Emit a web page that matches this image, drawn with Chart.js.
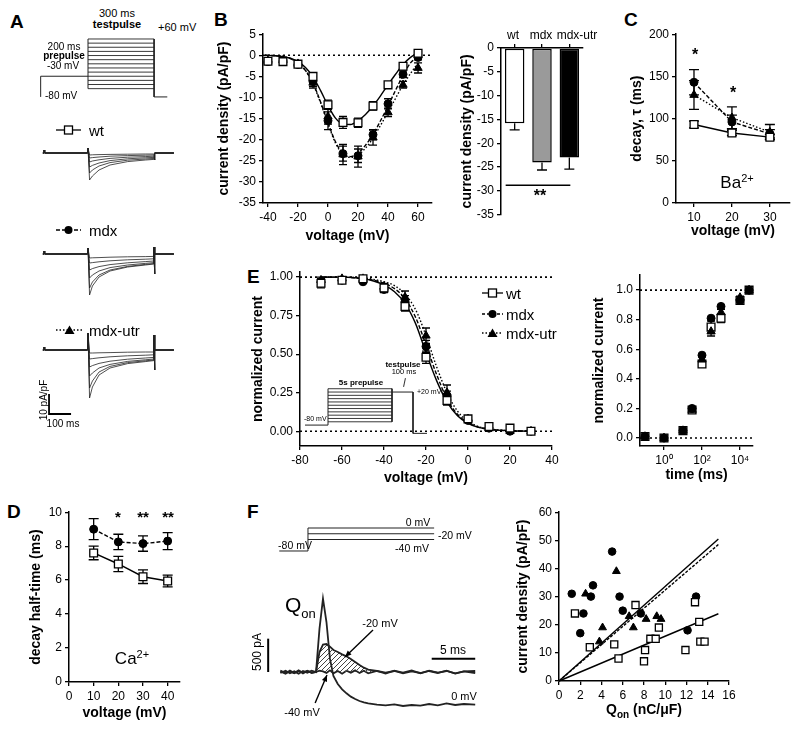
<!DOCTYPE html>
<html lang="en">
<head>
<meta charset="UTF-8" />
<title>Ca channel currents wt / mdx / mdx-utr</title>
<script src="https://cdn.jsdelivr.net/npm/chart.js"></script>
<style>
  body { margin: 0; background: #fff; }
  #fig { position: relative; width: 800px; height: 731px; overflow: hidden;
         font-family: "Liberation Sans", Arial, Helvetica, sans-serif; color: #000; }
  #fig canvas { position: absolute; }
  #fig svg { position: absolute; overflow: visible; }
  .c { position: absolute; white-space: nowrap; line-height: 1; color: #000; transform: translate(-50%, -50%); }
  .l { position: absolute; white-space: nowrap; line-height: 1; color: #000; transform: translate(0, -50%); }
  .r90 { transform: translate(-50%, -50%) rotate(-90deg); }
  .let { position: absolute; font-weight: bold; font-size: 19px; line-height: 1; }
  .b { font-weight: bold; }
</style>
</head>
<body>
<div id="fig">
  <!-- panel letters -->
  <div class="let" style="left:10px;top:12px">A</div>
  <div class="let" style="left:214px;top:10px">B</div>
  <div class="let" style="left:624px;top:10px">C</div>
  <div class="let" style="left:7px;top:502px">D</div>
  <div class="let" style="left:247px;top:267px">E</div>
  <div class="let" style="left:247px;top:502px">F</div>

  <!-- A -->
  <canvas id="protoA"></canvas>
  <canvas id="trWt"></canvas>
  <canvas id="trMdx"></canvas>
  <canvas id="trUtr"></canvas>
  <div class="c" style="left:117px;top:13px;font-size:11px">300 ms</div>
  <div class="c b" style="left:117px;top:24px;font-size:11px">testpulse</div>
  <div class="l" style="left:158px;top:27px;font-size:11px">+60 mV</div>
  <div class="c" style="left:64px;top:47px;font-size:10px">200 ms</div>
  <div class="c b" style="left:64px;top:56px;font-size:10px">prepulse</div>
  <div class="c" style="left:63px;top:66px;font-size:10px">-30 mV</div>
  <div class="l" style="left:45px;top:96px;font-size:10px">-80 mV</div>

  <svg style="left:56px;top:124px" width="26" height="12">
    <line x1="0" y1="6" x2="25" y2="6" stroke="#000" stroke-width="1.3"/>
    <rect x="8.5" y="2" width="8" height="8" fill="#fff" stroke="#000" stroke-width="1.3"/>
  </svg>
  <div class="l" style="left:89px;top:130px;font-size:15px">wt</div>
  <svg style="left:56px;top:224px" width="26" height="12">
    <line x1="0" y1="6" x2="25" y2="6" stroke="#000" stroke-width="1.3" stroke-dasharray="4 2"/>
    <circle cx="12.5" cy="6" r="4" fill="#000"/>
  </svg>
  <div class="l" style="left:89px;top:230px;font-size:15px">mdx</div>
  <svg style="left:56px;top:324px" width="28" height="12">
    <line x1="0" y1="6" x2="27" y2="6" stroke="#000" stroke-width="1.3" stroke-dasharray="1.5 2"/>
    <polygon points="13.5,1.5 18.5,10 8.5,10" fill="#000"/>
  </svg>
  <div class="l" style="left:89px;top:330px;font-size:15px">mdx-utr</div>
  <div class="c r90" style="left:44px;top:400px;font-size:10px">10 pA/pF</div>
  <div class="c" style="left:63px;top:424px;font-size:10px">100 ms</div>

  <!-- B -->
  <canvas id="ivChart"></canvas>
  <canvas id="barChart"></canvas>
  <div class="c" style="left:513px;top:35px;font-size:12px">wt</div>
  <div class="c" style="left:541px;top:35px;font-size:12px">mdx</div>
  <div class="c" style="left:577px;top:35px;font-size:12px">mdx-utr</div>
  <div class="c b" style="left:540px;top:196px;font-size:16px">**</div>

  <!-- C -->
  <canvas id="decChart"></canvas>
  <div class="c b" style="left:695px;top:55px;font-size:16px">*</div>
  <div class="c b" style="left:733px;top:93px;font-size:16px">*</div>
  <div class="c" style="left:737px;top:182px;font-size:17px">Ba<sup style="font-size:11px">2+</sup></div>

  <!-- D -->
  <canvas id="htChart"></canvas>
  <div class="c b" style="left:118px;top:516px;font-size:15px">*</div>
  <div class="c b" style="left:143px;top:516px;font-size:15px">**</div>
  <div class="c b" style="left:168px;top:516px;font-size:15px">**</div>
  <div class="c" style="left:132px;top:658px;font-size:17px">Ca<sup style="font-size:11px">2+</sup></div>

  <!-- E -->
  <canvas id="inactChart"></canvas>
  <canvas id="insetE"></canvas>
  <canvas id="recChart"></canvas>
  <div class="c b" style="left:361px;top:383px;font-size:8px">5s prepulse</div>
  <div class="c b" style="left:403px;top:365px;font-size:8px">testpulse</div>
  <div class="c" style="left:404px;top:372px;font-size:7.5px">100 ms</div>
  <div style="position:absolute;left:404px;top:378px;width:1px;height:9px;background:#333;transform:rotate(12deg)"></div>
  <div class="l" style="left:417px;top:391px;font-size:7px">+20 mV</div>
  <div class="l" style="left:304px;top:418px;font-size:7px">-80 mV</div>
  <svg style="left:482px;top:287px" width="22" height="12">
    <line x1="0" y1="6" x2="21" y2="6" stroke="#000" stroke-width="1.3"/>
    <rect x="6.5" y="2" width="8" height="8" fill="#fff" stroke="#000" stroke-width="1.3"/>
  </svg>
  <div class="l" style="left:506px;top:293px;font-size:15px">wt</div>
  <svg style="left:482px;top:308px" width="22" height="12">
    <line x1="0" y1="6" x2="21" y2="6" stroke="#000" stroke-width="1.3" stroke-dasharray="3 2"/>
    <circle cx="10.5" cy="6" r="4" fill="#000"/>
  </svg>
  <div class="l" style="left:506px;top:314px;font-size:15px">mdx</div>
  <svg style="left:482px;top:327px" width="22" height="12">
    <line x1="0" y1="6" x2="21" y2="6" stroke="#000" stroke-width="1.3" stroke-dasharray="1.5 2"/>
    <polygon points="10.5,1.5 15.5,10 5.5,10" fill="#000"/>
  </svg>
  <div class="l" style="left:506px;top:333px;font-size:15px">mdx-utr</div>

  <!-- F -->
  <canvas id="protoF"></canvas>
  <canvas id="trF"></canvas>
  <canvas id="qChart"></canvas>
  <div class="c" style="left:418px;top:522px;font-size:10.5px">0 mV</div>
  <div class="l" style="left:438px;top:535px;font-size:10.5px">-20 mV</div>
  <div class="c" style="left:412px;top:548px;font-size:10.5px">-40 mV</div>
  <div class="c" style="left:295px;top:545px;font-size:10.5px">-80 mV</div>
  <div class="l" style="left:285px;top:607px;font-size:21px">Q<sub style="font-size:13px">on</sub></div>
  <div class="c" style="left:380px;top:623px;font-size:11px">-20 mV</div>
  <div class="c" style="left:453px;top:650px;font-size:12px">5 ms</div>
  <div class="c r90" style="left:257px;top:652px;font-size:12px">500 pA</div>
  <div class="c" style="left:302px;top:712px;font-size:11px">-40 mV</div>
  <div class="c" style="left:464px;top:696px;font-size:11px">0 mV</div>
  <div class="c b" style="left:644px;top:711px;font-size:14px">Q<sub style="font-size:10px">on</sub> (nC/&mu;F)</div>
</div>

<script>
// ---------------- data ----------------
// A: voltage protocol (ms, mV)
const protoATimes = [-15, 200, 500, 560];
const protoAHold = -80;
const protoAPre = -30;
const testLevels = [-60, -50, -40, -30, -20, -10, 0, 10, 20, 30, 40, 50, 60];

// A: current traces (pA/pF) sampled at these times (ms)
const trT = [-5, 0, 1, 3, 198, 200, 207, 220, 250, 300, 380, 460, 499, 500, 501, 504, 590];
// values at 207..499 ms for each test pulse
const trWt = [
  [-13.5, -11.5, -8.5, -6.0, -4.3, -3.5, -3.2],
  [-10, -8.5, -6.5, -4.8, -3.6, -3.0, -2.7],
  [-7, -6.2, -5.0, -3.8, -2.9, -2.4, -2.2],
  [-4.5, -4.0, -3.4, -2.7, -2.1, -1.8, -1.6],
  [-2.5, -2.3, -2.0, -1.6, -1.3, -1.1, -1.0],
  [-1.0, -0.9, -0.8, -0.7, -0.6, -0.5, -0.5]
];
const trMdx = [
  [-20.5, -16, -11.5, -8.5, -6.5, -5.5, -5.0],
  [-17, -14, -10.5, -8.0, -6.2, -5.2, -4.8],
  [-12, -10.5, -8.5, -6.8, -5.5, -4.7, -4.3],
  [-8, -7.3, -6.3, -5.3, -4.4, -3.8, -3.5],
  [-4.5, -4.3, -3.9, -3.4, -2.9, -2.6, -2.4],
  [-2.0, -1.9, -1.8, -1.6, -1.4, -1.3, -1.2]
];
const trUtr = [
  [-24, -18.5, -12.5, -9.0, -6.8, -5.8, -5.3],
  [-19, -15.5, -11, -8.2, -6.3, -5.4, -5.0],
  [-13, -11.5, -9.0, -7.2, -5.7, -4.9, -4.5],
  [-8.5, -7.8, -6.7, -5.6, -4.6, -4.0, -3.7],
  [-4.5, -4.3, -3.9, -3.4, -2.9, -2.6, -2.4],
  [-1.5, -1.5, -1.4, -1.3, -1.1, -1.0, -1.0]
];

// B: I-V relation
const ivV = [-40, -30, -20, -10, 0, 10, 20, 30, 40, 50, 60];
const ivWt = [-1.4, -1.5, -2.1, -5.0, -11.7, -15.9, -16.0, -12.0, -7.0, -2.6, 0.5];
const ivWtErr = [0.5, 0.5, 0.5, 0.9, 1.1, 1.4, 1.1, 1.0, 0.6, 0.5, 0.5];
const ivMdx = [-1.5, -1.4, -2.2, -6.2, -15.5, -23.3, -23.8, -18.8, -11.5, -4.5, -0.5];
const ivMdxErr = [0.5, 0.7, 0.6, 1.2, 2.1, 1.8, 1.6, 1.2, 1.2, 0.8, 0.6];
const ivUtr = [-1.3, -1.2, -2.0, -6.5, -14.5, -23.5, -24.0, -19.5, -13.5, -7.0, -3.0];
const ivUtrErr = [0.5, 0.6, 0.6, 1.3, 1.8, 2.4, 2.5, 1.8, 1.0, 0.8, 1.2];
const fitV = [-42, -35, -30, -25, -20, -15, -10, -5, 0, 5, 10, 15, 20, 25, 30, 35, 40, 45, 50, 55, 60];
const fitWt = [0, -0.1, -0.3, -0.7, -1.5, -2.9, -5.1, -8.3, -11.9, -14.9, -16.3, -16.4, -15.5, -14.0, -12.0, -9.6, -7.0, -4.5, -2.2, -0.5, 0.5];
const fitMdx = [0, -0.1, -0.3, -0.8, -1.8, -3.6, -6.6, -11.0, -16.0, -20.5, -23.3, -24.0, -23.2, -21.3, -18.8, -15.5, -12.0, -8.3, -4.8, -1.8, -0.3];
const fitUtr = [0, -0.1, -0.3, -0.8, -1.8, -3.6, -6.8, -11.2, -16.2, -20.8, -23.5, -24.2, -23.6, -22.0, -19.6, -16.6, -13.4, -10.2, -7.0, -4.3, -1.8];
const ivTicksX = [-40, -20, 0, 20, 40, 60];
const ivTicksY = [5, 0, -5, -10, -15, -20, -25, -30, -35];

// B: peak current density bars
const barLabels = ['wt', 'mdx', 'mdx-utr'];
const barVals = [-15.8, -24.0, -23.0];
const barErr = [1.4, 1.6, 2.4];
const barTicksY = [0, -5, -10, -15, -20, -25, -30, -35];
const barSig = -28.8;

// C: decay tau (Ba2+)
const decV = [10, 20, 30];
const decWt = [93, 83, 78];
const decWtErr = [4, 3, 3];
const decMdx = [143, 96, 82];
const decMdxErr = [15, 8, 5];
const decUtr = [128, 101, 84];
const decUtrErr = [17, 13, 9];
const decTicksY = [0, 50, 100, 150, 200];

// D: decay half-time (Ca2+)
const htV = [10, 20, 30, 40];
const htWt = [7.6, 6.95, 6.2, 5.95];
const htWtErr = [0.4, 0.45, 0.4, 0.35];
const htMdx = [9.0, 8.25, 8.15, 8.3];
const htMdxErr = [0.62, 0.45, 0.45, 0.5];
const htTicksX = [0, 10, 20, 30, 40];
const htTicksY = [0, 2, 4, 6, 8, 10];

// E: steady-state inactivation
const inV = [-70, -60, -50, -40, -30, -20, -10, 0, 10, 20, 30];
const inWt = [0.96, 0.98, 0.99, 0.93, 0.81, 0.48, 0.20, 0.08, 0.03, 0.02, 0.0];
const inWtErr = [0.03, 0.02, 0.01, 0.02, 0.03, 0.04, 0.03, 0.01, 0.01, 0.01, 0];
const inMdx = [0.97, 0.98, 0.97, 0.92, 0.84, 0.55, 0.23, 0.07, 0.02, 0.0, 0.0];
const inMdxErr = [0.02, 0.02, 0.01, 0.02, 0.04, 0.04, 0.03, 0.01, 0.01, 0, 0];
const inUtr = [0.98, 0.99, 0.99, 0.94, 0.87, 0.62, 0.25, 0.08, 0.02, 0.0, 0.0];
const inUtrErr = [0.02, 0.01, 0.01, 0.02, 0.04, 0.05, 0.05, 0.01, 0.01, 0, 0];
const fitInV = [-70, -60, -50, -45, -40, -35, -30, -25, -20, -15, -10, -5, 0, 5, 10, 20, 30];
const fitInWt = [1.0, 1.0, 0.99, 0.975, 0.95, 0.905, 0.83, 0.70, 0.51, 0.33, 0.19, 0.10, 0.05, 0.025, 0.012, 0.003, 0.0];
const fitInMdx = [1.0, 1.0, 0.99, 0.98, 0.96, 0.925, 0.86, 0.74, 0.56, 0.37, 0.21, 0.11, 0.055, 0.027, 0.013, 0.003, 0.0];
const fitInUtr = [1.0, 1.0, 0.995, 0.985, 0.97, 0.945, 0.89, 0.79, 0.62, 0.42, 0.25, 0.13, 0.065, 0.03, 0.015, 0.004, 0.0];
const inTicksX = [-80, -60, -40, -20, 0, 20, 40];
const inTicksY = [0, 0.25, 0.5, 0.75, 1.0];
const inTickLabelsY = ['0.00', '0.25', '0.50', '0.75', '1.00'];
// E inset protocol (schematic time units)
const insetT = [5, 28, 92, 113, 127];
const insetHold = -80, insetTest = 20, insetEnd = -105;
const preLevels = [-70, -60, -50, -40, -30, -20, -10, 0, 10, 20, 30];

// E: recovery from inactivation
const recT = [0.1, 1, 10, 30, 100, 300, 1000, 10000, 30000];
const recWt = [0.01, 0.0, 0.05, 0.19, 0.50, 0.75, 0.81, 0.93, 1.0];
const recWtErr = [0, 0, 0, 0.01, 0.02, 0.04, 0.03, 0.01, 0];
const recMdx = [0.01, 0.0, 0.05, 0.20, 0.56, 0.81, 0.89, 0.93, 1.0];
const recUtr = [0.01, 0.0, 0.05, 0.19, 0.53, 0.72, 0.85, 0.95, 1.0];
const recUtrErr = [0, 0, 0, 0.01, 0.02, 0.03, 0.02, 0.01, 0];
const recTicksX = [1, 100, 10000];
const recTickLabelsX = ['10\u2070', '10\u00b2', '10\u2074'];
const recTicksY = [0, 0.2, 0.4, 0.6, 0.8, 1.0];
const recTickLabelsY = ['0.0', '0.2', '0.4', '0.6', '0.8', '1.0'];

// F: charge movement protocol and traces
const fLevels = [0, -20, -40];
const fProtoT = [-3.3, 0, 14.5];
const fT = [-4.1, -3.5, -3, -2.5, -2, -1.5, -1, -0.5, 0, 0.4, 0.8, 1.2, 1.6, 2, 2.5, 3, 3.5, 4, 4.5, 5, 5.5, 6, 7, 8, 9, 10, 11, 12, 13, 14, 15, 16, 17, 18.3];
const fTrM40 = [10, -25, 20, -15, 25, -20, 15, -10, 0, 20, 10, -15, 25, -20, 15, -25, 20, -10, 25, -15, 20, -20, 15, -25, 20, -10, 25, -20, 15, -15, 20, -25, 10, 15];
const fTrM20 = [-15, 20, -20, 10, -25, 15, -10, 20, 0, 300, 410, 420, 380, 330, 300, 265, 235, 195, 150, 105, 65, 35, 15, -10, 15, -20, 10, -15, 20, -10, 15, -20, 10, -15];
const fTr0 = [20, -15, 10, -20, 15, -10, 20, -15, 0, 650, 1100, 750, 200, -60, -180, -260, -320, -370, -405, -435, -455, -470, -490, -500, -485, -510, -495, -505, -480, -500, -470, -495, -480, -490];

// F: current density vs Qon
const qWtX = [1.5, 2.9, 5.2, 5.6, 7.2, 8.0, 8.1, 8.6, 9.1, 9.4, 11.9, 12.8, 13.2, 13.3, 13.7];
const qWtY = [24, 12, 13, 8, 27, 7, 11, 15, 15, 19, 11, 28, 21, 14, 14];
const qMdxX = [1.2, 2.0, 2.3, 3.0, 3.2, 5.0, 5.7, 6.0, 7.7, 12.1, 12.9];
const qMdxY = [31, 17, 24, 30, 34, 46, 30, 25, 24, 18, 30];
const qUtrX = [2.5, 3.8, 4.1, 5.4, 6.6, 7.0, 8.2, 9.2, 9.6];
const qUtrY = [31, 14, 19, 39, 23, 19, 22, 23, 22];
const qFitX = [0, 15];
const qFitWt = [0, 23.9];
const qFitMdx = [0, 50.5];
const qFitUtr = [0, 48.5];
const qTicksX = [0, 2, 4, 6, 8, 10, 12, 14, 16];
const qTicksY = [0, 10, 20, 30, 40, 50, 60];

// ---------------- helpers ----------------
Chart.defaults.font.family = '"Liberation Sans", Arial, Helvetica, sans-serif';
Chart.defaults.color = '#000';
Chart.defaults.animation = false;
Chart.defaults.responsive = false;
Chart.defaults.plugins.legend.display = false;
Chart.defaults.plugins.tooltip.enabled = false;

const refLines = {
  id: 'refLines',
  beforeDatasetsDraw(chart, args, opts) {
    if (!opts || !opts.y) return;
    const ctx = chart.ctx, a = chart.chartArea, ys = chart.scales.y;
    ctx.save();
    ctx.setLineDash([2, 3]); ctx.lineWidth = 1.6; ctx.strokeStyle = '#000';
    opts.y.forEach(v => {
      const p = ys.getPixelForValue(v);
      ctx.beginPath(); ctx.moveTo(a.left, p); ctx.lineTo(a.right + (opts.extend || 0), p); ctx.stroke();
    });
    ctx.restore();
  }
};
const errorBars = {
  id: 'errorBars',
  beforeDatasetsDraw(chart) {
    const ctx = chart.ctx;
    chart.data.datasets.forEach((ds, i) => {
      if (!ds.errs) return;
      const meta = chart.getDatasetMeta(i);
      const ys = chart.scales[meta.yAxisID];
      ctx.save();
      ctx.strokeStyle = '#000'; ctx.lineWidth = 1.3; ctx.setLineDash([]);
      meta.data.forEach((el, j) => {
        const e = ds.errs[j];
        if (!e) return;
        const d = ds.data[j];
        const v = typeof d === 'object' ? d.y : d;
        const cw = ds.capW || 4;
        const yT = ys.getPixelForValue(v + (ds.errDown ? 0 : e));
        const yB = ys.getPixelForValue(v - e);
        ctx.beginPath();
        ctx.moveTo(el.x, yT); ctx.lineTo(el.x, yB);
        ctx.moveTo(el.x - cw, yB); ctx.lineTo(el.x + cw, yB);
        if (!ds.errDown) { ctx.moveTo(el.x - cw, yT); ctx.lineTo(el.x + cw, yT); }
        ctx.stroke();
      });
      ctx.restore();
    });
  }
};
Chart.register(refLines, errorBars);

function place(id, left, top, right, bottom) {
  const cv = document.getElementById(id);
  cv.style.left = left + 'px'; cv.style.top = top + 'px';
  cv.width = right - left; cv.height = bottom - top;
  return cv;
}
function axis(min, max, ticks, labels, title, more) {
  return Object.assign({
    type: 'linear', min: min, max: max,
    afterBuildTicks: s => { s.ticks = ticks.map(v => ({ value: v })); },
    ticks: { color: '#000', font: { size: 12 }, padding: 3, autoSkip: false, maxRotation: 0,
      callback: (v, i) => labels[i] },
    grid: { drawOnChartArea: false, drawTicks: true, tickLength: 4, color: '#000', lineWidth: 1.3 },
    border: { display: true, color: '#000', width: 1.5 },
    title: title ? { display: true, text: title, color: '#000', font: { size: 14, weight: 'bold' }, padding: 0 }
                 : { display: false }
  }, more || {});
}
function xy(xs, ys) { return xs.map((x, i) => ({ x: x, y: ys[i] })); }
const STY = {
  wt:  { pointStyle: 'rect', pointRadius: 5.5, pointBackgroundColor: '#fff', pointBorderColor: '#000', pointBorderWidth: 1.3, borderColor: '#000', borderWidth: 1.4, borderDash: [] },
  mdx: { pointStyle: 'circle', pointRadius: 4, pointBackgroundColor: '#000', pointBorderColor: '#000', pointBorderWidth: 1, borderColor: '#000', borderWidth: 1.4, borderDash: [4, 2] },
  utr: { pointStyle: 'triangle', pointRadius: 4.8, pointBackgroundColor: '#000', pointBorderColor: '#000', pointBorderWidth: 1, borderColor: '#000', borderWidth: 1.4, borderDash: [1.5, 2] }
};
function pts(g, xs, ys, errs, extra) {
  return Object.assign({}, STY[g], { data: xy(xs, ys), showLine: false, errs: errs, clip: false }, extra || {});
}
function curve(g, xs, ys, extra) {
  return Object.assign({}, STY[g], { data: xy(xs, ys), showLine: true, pointRadius: 0, cubicInterpolationMode: 'monotone', clip: false }, extra || {});
}
function path(points, w) {
  return { data: points, showLine: true, pointRadius: 0, borderColor: '#222', borderWidth: w || 1, clip: false };
}
function hidden(min, max) {
  return { type: 'linear', display: false, min: min, max: max };
}
function bare(id, datasets, xr, yr, plugins) {
  return new Chart(document.getElementById(id), {
    type: 'scatter',
    data: { datasets: datasets },
    options: { devicePixelRatio: 1, layout: { padding: 0 },
      scales: { x: hidden(xr[0], xr[1]), y: hidden(yr[0], yr[1]) } },
    plugins: plugins || []
  });
}

// ---------------- A ----------------
place('protoA', 40, 37, 175, 99);
(function () {
  const [t0, t1, t2, t3] = protoATimes;
  const ds = [
    path([{ x: t0, y: protoAHold }, { x: t0, y: protoAPre }, { x: t1, y: protoAPre }]),
    path([{ x: t1, y: testLevels[0] }, { x: t1, y: testLevels[testLevels.length - 1] }]),
    path([{ x: t2, y: testLevels[testLevels.length - 1] }, { x: t2, y: protoAHold }, { x: t3, y: protoAHold }])
  ];
  testLevels.forEach(L => ds.push(path([{ x: t1, y: L }, { x: t2, y: L }], 0.9)));
  bare('protoA', ds, [-18, 595], [-85, 64.8]);
})();

function traceSet(curves, art, up500, tail) {
  return curves.map(c => path(xy(trT, [0, 0, 1.5, 0, 0, art].concat(c, [up500 === null ? c[c.length - 1] : up500, tail, 0, 0])), 0.8));
}
place('trWt', 40, 145, 175, 185);
bare('trWt', traceSet(trWt, 2.5, null, -3.5), [-18, 595], [-16, 4]);
place('trMdx', 40, 246, 175, 302);
bare('trMdx', traceSet(trMdx, 3, 3.5, -10), [-18, 595], [-24, 4]);
place('trUtr', 40, 332, 175, 420);
bare('trUtr', traceSet(trUtr, 8.5, 7.5, -10), [-18, 595], [-35, 9], [{
  id: 'scaleBarA',
  afterDraw(chart) {
    const x = chart.scales.x, y = chart.scales.y, ctx = chart.ctx;
    ctx.save(); ctx.strokeStyle = '#000'; ctx.lineWidth = 1.8;
    ctx.beginPath();
    ctx.moveTo(x.getPixelForValue(23), y.getPixelForValue(-22));
    ctx.lineTo(x.getPixelForValue(23), y.getPixelForValue(-32));
    ctx.lineTo(x.getPixelForValue(123), y.getPixelForValue(-32));
    ctx.stroke(); ctx.restore();
  }
}]);

// ---------------- B ----------------
place('ivChart', 216, 24, 444, 245);
new Chart(document.getElementById('ivChart'), {
  type: 'scatter',
  data: { datasets: [
    pts('wt', ivV, ivWt, ivWtErr), pts('mdx', ivV, ivMdx, ivMdxErr), pts('utr', ivV, ivUtr, ivUtrErr),
    curve('wt', fitV, fitWt), curve('mdx', fitV, fitMdx), curve('utr', fitV, fitUtr)
  ] },
  options: {
    devicePixelRatio: 1,
    layout: { padding: { top: 10, right: 12, left: 0, bottom: 0 } },
    plugins: { refLines: { y: [0] } },
    scales: {
      x: axis(-43.3, 69.3, ivTicksX, ivTicksX.map(String), 'voltage (mV)', { afterFit: s => { s.height = 42; } }),
      y: axis(-35, 5, ivTicksY, ivTicksY.map(String), 'current density (pA/pF)', { afterFit: s => { s.width = 47; } })
    }
  }
});

// category labels of the bar chart are set as text above (they overlap at this width)
place('barChart', 459, 26, 591, 225);
new Chart(document.getElementById('barChart'), {
  type: 'bar',
  data: { labels: barLabels, datasets: [{
    data: barVals, errs: barErr, errDown: true, capW: 5,
    backgroundColor: ['#fff', '#9a9a9a', '#000'], borderColor: '#000', borderWidth: 1.5, borderSkipped: false,
    barPercentage: 0.75, categoryPercentage: 0.95
  }] },
  options: {
    devicePixelRatio: 1,
    layout: { padding: { top: 0, right: 8, left: 0, bottom: 10 } },
    scales: {
      x: { type: 'category', position: 'top', offset: true,
        ticks: { display: false },
        grid: { offset: false, drawOnChartArea: false, drawTicks: true, tickLength: 4, color: '#000', lineWidth: 1.3 },
        border: { display: true, color: '#000', width: 1.5 },
        afterFit: s => { s.height = 22; } },
      y: axis(-35, 0, barTicksY, barTicksY.map(String), 'current density (pA/pF)', { afterFit: s => { s.width = 42; } })
    }
  },
  plugins: [{
    id: 'sigLine',
    afterDraw(chart) {
      const x = chart.scales.x, y = chart.scales.y, ctx = chart.ctx;
      const p = y.getPixelForValue(barSig);
      ctx.save(); ctx.strokeStyle = '#000'; ctx.lineWidth = 1.5;
      ctx.beginPath(); ctx.moveTo(x.getPixelForValue(0) - 9, p); ctx.lineTo(x.getPixelForValue(2) + 1, p); ctx.stroke();
      ctx.restore();
    }
  }]
});

// ---------------- C ----------------
place('decChart', 629, 24, 798, 240);
new Chart(document.getElementById('decChart'), {
  type: 'scatter',
  data: { datasets: [
    pts('wt', decV, decWt, decWtErr, { showLine: true, capW: 5 }),
    pts('mdx', decV, decMdx, decMdxErr, { showLine: true, capW: 5 }),
    pts('utr', decV, decUtr, decUtrErr, { showLine: true, capW: 5 })
  ] },
  options: {
    devicePixelRatio: 1,
    layout: { padding: { top: 10, right: 8, left: 0, bottom: 0 } },
    scales: {
      x: axis(5.26, 35.3, decV, decV.map(String), 'voltage (mV)', { afterFit: s => { s.height = 37; } }),
      y: axis(0, 200, decTicksY, decTicksY.map(String), 'decay, \u03c4 (ms)', { afterFit: s => { s.width = 47; } })
    }
  }
});

// ---------------- D ----------------
place('htChart', 28, 502, 192, 722);
new Chart(document.getElementById('htChart'), {
  type: 'scatter',
  data: { datasets: [
    pts('mdx', htV, htMdx, htMdxErr, { showLine: true, capW: 5 }),
    pts('wt', htV, htWt, htWtErr, { showLine: true, capW: 5 })
  ] },
  options: {
    devicePixelRatio: 1,
    layout: { padding: { top: 10, right: 12, left: 0, bottom: 0 } },
    scales: {
      x: axis(0, 45, htTicksX, htTicksX.map(String), 'voltage (mV)', { afterFit: s => { s.height = 40; } }),
      y: axis(0, 10, htTicksY, htTicksY.map(String), 'decay half-time (ms)', { afterFit: s => { s.width = 41; } })
    }
  }
});

// ---------------- E ----------------
place('inactChart', 250, 262, 566, 487);
new Chart(document.getElementById('inactChart'), {
  type: 'scatter',
  data: { datasets: [
    pts('wt', inV, inWt, inWtErr), pts('mdx', inV, inMdx, inMdxErr), pts('utr', inV, inUtr, inUtrErr),
    curve('wt', fitInV, fitInWt), curve('mdx', fitInV, fitInMdx), curve('utr', fitInV, fitInUtr)
  ] },
  options: {
    devicePixelRatio: 1,
    layout: { padding: { top: 8, right: 14, left: 0, bottom: 0 } },
    plugins: { refLines: { y: [0, 1] } },
    scales: {
      x: axis(-80, 40, inTicksX, inTicksX.map(String), 'voltage (mV)', { afterFit: s => { s.height = 41; } }),
      y: axis(-0.096, 1.032, inTicksY, inTickLabelsY, 'normalized current', { afterFit: s => { s.width = 50; } })
    }
  }
});

place('insetE', 300, 380, 440, 436);
(function () {
  const [a, b, c, d, e] = insetT;
  const top = preLevels[preLevels.length - 1];
  const ds = [
    path([{ x: a, y: insetHold }, { x: b, y: insetHold }, { x: b, y: top }]),
    path([{ x: c, y: top }, { x: c, y: preLevels[0] }]),
    path([{ x: c, y: insetTest }, { x: d, y: insetTest }, { x: d, y: insetEnd }, { x: e, y: insetEnd }])
  ];
  preLevels.forEach(L => ds.push(path([{ x: b, y: L }, { x: c, y: L }], 0.9)));
  bare('insetE', ds, [0, 140], [-113, 56.4]);
})();

place('recChart', 591, 265, 765, 484);
new Chart(document.getElementById('recChart'), {
  type: 'scatter',
  data: { datasets: [
    pts('utr', recT, recUtr, recUtrErr), pts('mdx', recT, recMdx), pts('wt', recT, recWt, recWtErr)
  ] },
  options: {
    devicePixelRatio: 1,
    layout: { padding: { top: 10, right: 12, left: 0, bottom: 0 } },
    plugins: { refLines: { y: [0, 1] } },
    scales: {
      x: axis(0.0546, 48300, recTicksX, recTickLabelsX, 'time (ms)', { type: 'logarithmic', afterFit: s => { s.height = 38; } }),
      y: axis(-0.054, 1.101, recTicksY, recTickLabelsY, 'normalized current', { afterFit: s => { s.width = 49; } })
    }
  }
});

// ---------------- F ----------------
place('protoF', 279, 522, 437, 553);
(function () {
  const [t0, t1, t2] = fProtoT;
  const ds = [path([{ x: t0, y: -80 }, { x: t1, y: -80 }, { x: t1, y: fLevels[0] }])];
  fLevels.forEach(L => ds.push(path([{ x: t1, y: L }, { x: t2, y: L }], 1.1)));
  bare('protoF', ds, [-3.33, 14.83], [-86.96, 20.87]);
})();

place('trF', 262, 585, 476, 715);
(function () {
  const pc = document.createElement('canvas');
  pc.width = 5; pc.height = 5;
  const g = pc.getContext('2d');
  g.strokeStyle = '#444'; g.lineWidth = 1;
  g.beginPath(); g.moveTo(0, 5); g.lineTo(5, 0); g.moveTo(-1, 1); g.lineTo(1, -1); g.moveTo(4, 6); g.lineTo(6, 4); g.stroke();
  const hatch = g.createPattern(pc, 'repeat');
  const t20 = path(xy(fT, fTrM20), 1.8);
  t20.fill = { target: { value: 0 }, above: hatch, below: 'rgba(0,0,0,0)' };
  bare('trF', [path(xy(fT, fTr0), 1.8), t20, path(xy(fT, fTrM40), 1.8)], [-6.21, 18.39], [-645, 1305], [{
    id: 'barsArrows',
    afterDraw(chart) {
      const x = chart.scales.x, y = chart.scales.y, ctx = chart.ctx;
      const P = (t, v) => [x.getPixelForValue(t), y.getPixelForValue(v)];
      ctx.save(); ctx.strokeStyle = '#000'; ctx.fillStyle = '#000'; ctx.lineWidth = 2;
      // scale bars: 500 pA and 5 ms
      let a = P(-5.5, 0), b = P(-5.5, 500);
      ctx.beginPath(); ctx.moveTo(a[0], a[1]); ctx.lineTo(b[0], b[1]); ctx.stroke();
      a = P(13.3, 200); b = P(18.3, 200);
      ctx.beginPath(); ctx.moveTo(a[0], a[1]); ctx.lineTo(b[0], b[1]); ctx.stroke();
      // arrows
      ctx.lineWidth = 1.4;
      [[P(6.55, 630), P(3.33, 225)], [P(-0.1, -465), P(1.26, -45)]].forEach(([s, e]) => {
        const ang = Math.atan2(e[1] - s[1], e[0] - s[0]);
        ctx.beginPath(); ctx.moveTo(s[0], s[1]); ctx.lineTo(e[0], e[1]); ctx.stroke();
        ctx.beginPath(); ctx.moveTo(e[0], e[1]);
        ctx.lineTo(e[0] - 7 * Math.cos(ang - 0.4), e[1] - 7 * Math.sin(ang - 0.4));
        ctx.lineTo(e[0] - 7 * Math.cos(ang + 0.4), e[1] - 7 * Math.sin(ang + 0.4));
        ctx.closePath(); ctx.fill();
      });
      ctx.restore();
    }
  }]);
})();

place('qChart', 515, 502, 741, 719);
new Chart(document.getElementById('qChart'), {
  type: 'scatter',
  data: { datasets: [
    pts('wt', qWtX, qWtY, null, { pointRadius: 5 }),
    pts('mdx', qMdxX, qMdxY, null, { pointRadius: 3.8 }),
    pts('utr', qUtrX, qUtrY, null, { pointRadius: 4.5 }),
    curve('wt', qFitX, qFitWt, { cubicInterpolationMode: 'default' }),
    curve('mdx', qFitX, qFitMdx, { cubicInterpolationMode: 'default', borderDash: [] }),
    curve('utr', qFitX, qFitUtr, { cubicInterpolationMode: 'default', borderDash: [3, 1.5] })
  ] },
  options: {
    devicePixelRatio: 1,
    layout: { padding: { top: 10, right: 12, left: 0, bottom: 0 } },
    scales: {
      x: axis(0, 16, qTicksX, qTicksX.map(String), null, { afterFit: s => { s.height = 38; } }),
      y: axis(0, 60, qTicksY, qTicksY.map(String), 'current density (pA/pF)', { afterFit: s => { s.width = 44; } })
    }
  }
});
</script>
</body>
</html>
